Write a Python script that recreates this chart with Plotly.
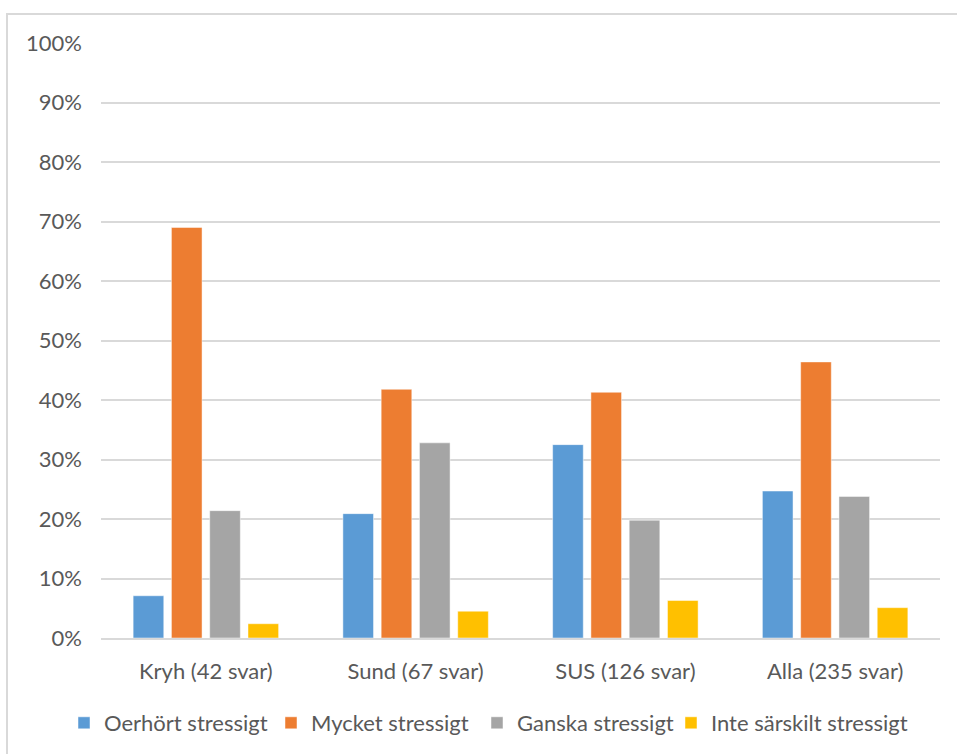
import plotly.graph_objects as go

categories = ["Kryh (42 svar)", "Sund (67 svar)", "SUS (126 svar)", "Alla (235 svar)"]
series_names = ["Oerhört stressigt", "Mycket stressigt", "Ganska stressigt", "Inte särskilt stressigt"]
oerhort = [0.071, 0.209, 0.325, 0.247]
mycket = [0.690, 0.418, 0.413, 0.464]
ganska = [0.214, 0.328, 0.198, 0.238]
inte = [0.024, 0.045, 0.063, 0.051]
colors = ["#5B9BD5", "#ED7D31", "#A5A5A5", "#FFC000"]
y_ticks = [0, 0.1, 0.2, 0.3, 0.4, 0.5, 0.6, 0.7, 0.8, 0.9, 1.0]

FONT = "Lato"
TXT = "#595959"
FS = 22

W, H = 957, 754
L, R, T, B = 101, 17, 43, 116
pw = W - L - R
ph = H - T - B

# legend entry left edges (px) for each series' own legend
legend_px = [64, 271, 477, 671]
legend_keys = ["legend", "legend2", "legend3", "legend4"]

fig = go.Figure()
for name, vals, col, lk in zip(series_names, [oerhort, mycket, ganska, inte], colors, legend_keys):
    fig.add_trace(go.Bar(
        x=categories, y=vals, name=name, legend=lk,
        marker=dict(color=col, line=dict(color="rgba(255,255,255,0.6)", width=0.8)),
    ))

legend_cfg = {}
for lk, px in zip(legend_keys, legend_px):
    legend_cfg[lk] = dict(
        orientation="h", x=(px - L) / pw, xanchor="left",
        y=(T + ph - 723) / ph, yanchor="middle",
        font=dict(family=FONT, size=FS, color=TXT),
        bgcolor="rgba(0,0,0,0)", borderwidth=0,
    )

fig.update_layout(
    width=W, height=H,
    margin=dict(l=L, r=R, t=T, b=B, pad=0, autoexpand=False),
    paper_bgcolor="white", plot_bgcolor="white",
    barmode="group", bargap=0.27, bargroupgap=0.2,
    font=dict(family=FONT, size=FS, color=TXT),
    showlegend=True,
    xaxis=dict(
        showgrid=False, showline=True, linecolor="#D9D9D9", linewidth=1.5,
        ticks="", tickfont=dict(family=FONT, size=FS, color=TXT),
        ticklabelstandoff=13,
    ),
    yaxis=dict(
        range=[0, 1], tickvals=y_ticks, tickformat=".0%",
        showgrid=True, gridcolor="#D9D9D9", gridwidth=1.5,
        zeroline=False, showline=False, ticks="",
        tickfont=dict(family=FONT, size=FS, color=TXT),
        ticklabelstandoff=18,
    ),
    shapes=[dict(
        type="rect", xref="paper", yref="paper",
        x0=(7 - L) / pw, x1=(W + 20 - L) / pw,
        y0=(T + ph - (H + 20)) / ph, y1=(T + ph - 14) / ph,
        line=dict(color="#D9D9D9", width=2), fillcolor="rgba(0,0,0,0)",
        layer="below",
    )],
    **legend_cfg,
)

fig.write_html("out.html")
